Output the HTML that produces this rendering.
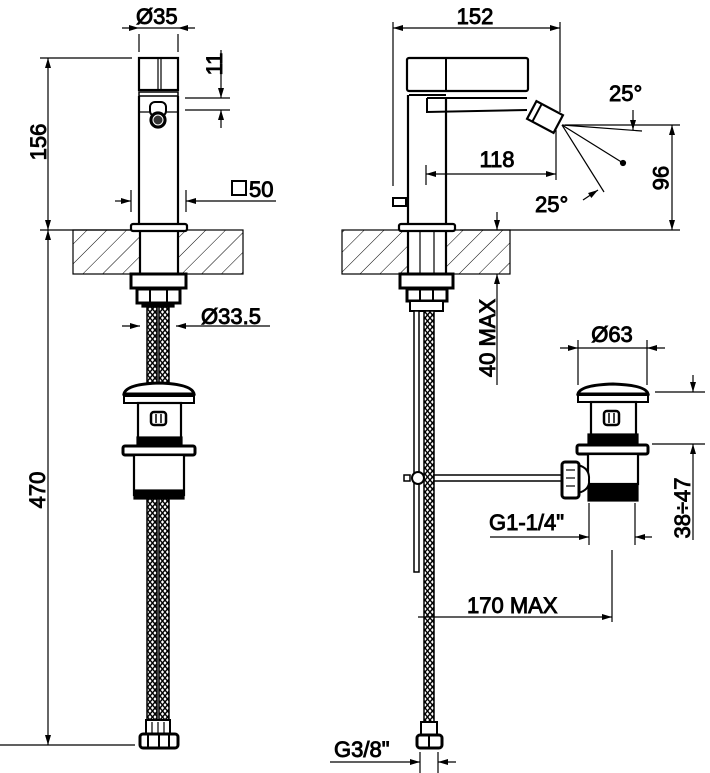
<!DOCTYPE html>
<html><head><meta charset="utf-8"><style>
html,body{margin:0;padding:0;background:#fff;}
svg{display:block;}
text{font-family:"Liberation Sans",Arial,sans-serif;font-size:22px;fill:#000;stroke:#000;stroke-width:0.9;}
</style></head><body>
<svg width="710" height="773" viewBox="0 0 710 773" xmlns="http://www.w3.org/2000/svg">
<defs>
<pattern id="hatch" width="14" height="14" patternUnits="userSpaceOnUse" patternTransform="rotate(45)">
<line x1="0" y1="0" x2="0" y2="14" stroke="#000" stroke-width="1"/>
</pattern>
<pattern id="braid" width="5" height="6" patternUnits="userSpaceOnUse">
<rect width="5" height="6" fill="#fff"/>
<path d="M0 0 L5 6 M5 0 L0 6" stroke="#000" stroke-width="1.4"/>
</pattern>
<marker id="a" viewBox="0 0 10 6" refX="10" refY="3" markerWidth="16" markerHeight="6" markerUnits="userSpaceOnUse" orient="auto">
<path d="M0 0 L10 3 L0 6 Z" fill="#000"/>
</marker>
</defs>
<g fill="none" stroke="#000" stroke-width="1.2">

<!-- ===== LEFT VIEW ===== -->
<line x1="122" y1="28" x2="139" y2="28" marker-end="url(#a)"/>
<line x1="195" y1="28" x2="178" y2="28" marker-end="url(#a)"/>
<line x1="139" y1="28" x2="178" y2="28"/>
<line x1="139" y1="34" x2="139" y2="52"/>
<line x1="178" y1="34" x2="178" y2="52"/>
<line x1="40" y1="58" x2="132" y2="58"/>
<line x1="48" y1="145" x2="48" y2="58" marker-end="url(#a)"/>
<line x1="48" y1="145" x2="48" y2="230" marker-end="url(#a)"/>
<line x1="40" y1="230" x2="140" y2="230"/>
<line x1="48" y1="490" x2="48" y2="230" marker-end="url(#a)"/>
<line x1="48" y1="490" x2="48" y2="745" marker-end="url(#a)"/>
<line x1="0" y1="745" x2="135" y2="745"/>
<rect x="139" y="58" width="39" height="32" stroke-width="2.2"/>
<line x1="158" y1="58" x2="158" y2="90"/><line x1="161" y1="58" x2="161" y2="90"/>
<rect x="139" y="92" width="39" height="4" stroke-width="1.5"/>
<line x1="139" y1="96" x2="139" y2="224" stroke-width="2.2"/>
<line x1="178" y1="96" x2="178" y2="224" stroke-width="2.2"/>
<line x1="139" y1="112" x2="178" y2="112"/>
<rect x="150" y="102" width="16" height="14" rx="5" fill="#fff" stroke-width="2"/>
<circle cx="158" cy="120" r="8" fill="#000"/>
<circle cx="158" cy="120" r="5" fill="#333" stroke="#fff" stroke-width="1"/>
<line x1="185" y1="98" x2="230" y2="98"/>
<line x1="185" y1="110" x2="230" y2="110"/>
<line x1="221" y1="50" x2="221" y2="98" marker-end="url(#a)"/>
<line x1="221" y1="128" x2="221" y2="110" marker-end="url(#a)"/>
<line x1="115" y1="201" x2="131" y2="201" marker-end="url(#a)"/>
<line x1="276" y1="201" x2="186" y2="201" marker-end="url(#a)"/>
<line x1="131" y1="190" x2="131" y2="212"/>
<line x1="186" y1="190" x2="186" y2="212"/>
<rect x="232" y="181" width="14" height="14" stroke-width="2"/>
<rect x="73" y="230" width="170" height="44" fill="url(#hatch)"/>
<rect x="140" y="231" width="38" height="42" fill="#fff" stroke="none"/>
<line x1="140" y1="230" x2="140" y2="274" stroke-width="2.2"/>
<line x1="178" y1="230" x2="178" y2="274" stroke-width="2.2"/>
<rect x="131" y="224" width="56" height="7" rx="2" fill="#fff" stroke-width="2.2"/>
<rect x="131" y="274" width="55" height="14" fill="#fff" stroke-width="3"/>
<rect x="137" y="289" width="43" height="14" fill="#fff" stroke-width="3"/>
<line x1="150" y1="289" x2="150" y2="303" stroke-width="2"/><line x1="167" y1="289" x2="167" y2="303" stroke-width="2"/>
<rect x="142" y="303" width="32" height="4" fill="#000"/>
<line x1="122" y1="326" x2="140" y2="326" marker-end="url(#a)"/>
<line x1="200" y1="326" x2="176" y2="326" marker-end="url(#a)"/>
<line x1="200" y1="326" x2="270" y2="326"/>
<rect x="147" y="307" width="10" height="428" fill="url(#braid)" stroke-width="1.5"/>
<rect x="159" y="307" width="10" height="428" fill="url(#braid)" stroke-width="1.5"/>
<path d="M124 394 Q126 384 159 383 Q192 384 194 394 Z" fill="#fff" stroke-width="3"/>
<rect x="124" y="396" width="70" height="7" fill="#fff" stroke-width="2"/>
<rect x="138" y="403" width="43" height="37" fill="#fff" stroke-width="2.2"/>
<rect x="151" y="412" width="15" height="13" rx="3" fill="#fff" stroke-width="2.5"/>
<line x1="156" y1="414" x2="156" y2="423" stroke-width="1.5"/><line x1="161" y1="414" x2="161" y2="423" stroke-width="1.5"/>
<rect x="137" y="437" width="45" height="9" fill="#000"/>
<rect x="123" y="446" width="72" height="9" rx="2" fill="#fff" stroke-width="3"/>
<rect x="134" y="455" width="50" height="40" fill="#fff" stroke-width="2.2"/>
<rect x="134" y="490" width="50" height="9" fill="#000"/>
<rect x="146" y="720" width="24" height="14" fill="#fff" stroke-width="2"/>
<line x1="152" y1="722" x2="152" y2="733"/><line x1="158" y1="722" x2="158" y2="733"/><line x1="164" y1="722" x2="164" y2="733"/>
<rect x="140" y="734" width="38" height="14" rx="3" fill="#fff" stroke-width="3"/>
<line x1="148" y1="734" x2="148" y2="748" stroke-width="2"/><line x1="159" y1="734" x2="159" y2="748" stroke-width="2"/><line x1="169" y1="734" x2="169" y2="748" stroke-width="2"/>

<!-- ===== RIGHT VIEW ===== -->
<line x1="470" y1="28" x2="393" y2="28" marker-end="url(#a)"/>
<line x1="470" y1="28" x2="560" y2="28" marker-end="url(#a)"/>
<line x1="393" y1="22" x2="393" y2="186"/>
<line x1="560" y1="22" x2="560" y2="112"/>
<rect x="407" y="58" width="121" height="33" rx="2" stroke-width="2.2"/>
<line x1="446" y1="58" x2="446" y2="91" stroke-width="2"/>
<line x1="409" y1="95" x2="446" y2="95" stroke-width="2"/>
<line x1="408" y1="95" x2="408" y2="224" stroke-width="2.2"/>
<line x1="446" y1="98" x2="446" y2="224" stroke-width="2.2"/>
<line x1="427" y1="98" x2="527" y2="98" stroke-width="2"/>
<path d="M427 98 L427 112 L527 110" stroke-width="2"/>
<g transform="translate(545,117) rotate(28)">
<rect x="-15" y="-10" width="30" height="20" fill="#fff" stroke-width="2.2"/>
<line x1="-9" y1="-10" x2="-9" y2="10" stroke-width="2"/>
</g>
<rect x="393" y="198" width="13" height="8" stroke-width="2"/>
<line x1="562" y1="125" x2="642" y2="131"/>
<line x1="562" y1="125" x2="623" y2="163"/>
<circle cx="623" cy="163" r="2.5" fill="#000"/>
<line x1="562" y1="125" x2="604" y2="192"/>
<line x1="633" y1="110" x2="633" y2="130" marker-end="url(#a)"/>
<line x1="583" y1="200" x2="598" y2="190" marker-end="url(#a)"/>
<line x1="426" y1="165" x2="426" y2="185"/>
<line x1="556" y1="130" x2="556" y2="180"/>
<line x1="490" y1="174" x2="426" y2="174" marker-end="url(#a)"/>
<line x1="490" y1="174" x2="556" y2="174" marker-end="url(#a)"/>
<line x1="565" y1="125" x2="680" y2="125"/>
<line x1="460" y1="230" x2="680" y2="230"/>
<line x1="672" y1="178" x2="672" y2="125" marker-end="url(#a)"/>
<line x1="672" y1="178" x2="672" y2="230" marker-end="url(#a)"/>
<rect x="342" y="230" width="168" height="44" fill="url(#hatch)"/>
<rect x="408" y="231" width="38" height="42" fill="#fff" stroke="none"/>
<line x1="408" y1="230" x2="408" y2="274" stroke-width="2.2"/>
<line x1="446" y1="230" x2="446" y2="274" stroke-width="2.2"/>
<line x1="420" y1="230" x2="420" y2="274"/><line x1="434" y1="230" x2="434" y2="274"/>
<rect x="399" y="224" width="56" height="7" rx="2" fill="#fff" stroke-width="2.2"/>
<line x1="497" y1="212" x2="497" y2="230" marker-end="url(#a)"/>
<line x1="497" y1="385" x2="497" y2="274" marker-end="url(#a)"/>
<rect x="400" y="274" width="53" height="14" fill="#fff" stroke-width="3"/>
<rect x="407" y="289" width="40" height="12" fill="#fff" stroke-width="3"/>
<line x1="420" y1="289" x2="420" y2="301" stroke-width="2"/><line x1="433" y1="289" x2="433" y2="301" stroke-width="2"/>
<rect x="410" y="301" width="33" height="10" fill="#fff" stroke-width="2"/>
<rect x="414" y="311" width="5" height="261" fill="#fff" stroke-width="1.5"/>
<rect x="424" y="311" width="10" height="424" fill="url(#braid)" stroke-width="1.5"/>
<line x1="433" y1="475" x2="563" y2="475" stroke-width="1.5"/>
<line x1="433" y1="481" x2="563" y2="481" stroke-width="1.5"/>
<circle cx="418" cy="478" r="6" fill="#fff" stroke-width="2"/>
<rect x="404" y="475" width="6" height="6" fill="#fff" stroke-width="1.5"/>
<path d="M578 394 Q580 385 613 384 Q646 385 648 394 Z" fill="#fff" stroke-width="3"/>
<rect x="578" y="395" width="70" height="7" fill="#fff" stroke-width="2"/>
<rect x="591" y="402" width="45" height="34" fill="#fff" stroke-width="2.2"/>
<rect x="604" y="411" width="15" height="14" rx="3" fill="#fff" stroke-width="2.5"/>
<line x1="609" y1="413" x2="609" y2="423" stroke-width="1.5"/><line x1="614" y1="413" x2="614" y2="423" stroke-width="1.5"/>
<rect x="588" y="434" width="50" height="10" fill="#000"/>
<rect x="577" y="445" width="71" height="9" rx="2" fill="#fff" stroke-width="3"/>
<rect x="588" y="454" width="50" height="30" fill="#fff" stroke-width="2.2"/>
<rect x="588" y="484" width="50" height="17" fill="#000"/>
<path d="M578 465 Q590 468 589 480 Q590 490 578 493" fill="#fff" stroke-width="2"/>
<rect x="562" y="462" width="17" height="36" rx="3" fill="#fff" stroke-width="3"/>
<line x1="566" y1="470" x2="575" y2="470"/><line x1="566" y1="478" x2="575" y2="478"/><line x1="566" y1="486" x2="575" y2="486"/>
<line x1="560" y1="348" x2="578" y2="348" marker-end="url(#a)"/>
<line x1="665" y1="348" x2="647" y2="348" marker-end="url(#a)"/>
<line x1="578" y1="348" x2="647" y2="348"/>
<line x1="578" y1="340" x2="578" y2="385"/>
<line x1="647" y1="340" x2="647" y2="385"/>
<line x1="655" y1="392" x2="705" y2="392"/>
<line x1="652" y1="444" x2="705" y2="444"/>
<line x1="693" y1="375" x2="693" y2="392" marker-end="url(#a)"/>
<line x1="693" y1="540" x2="693" y2="444" marker-end="url(#a)"/>
<line x1="490" y1="537" x2="589" y2="537" marker-end="url(#a)"/>
<line x1="652" y1="537" x2="635" y2="537" marker-end="url(#a)"/>
<line x1="589" y1="503" x2="589" y2="545"/>
<line x1="635" y1="503" x2="635" y2="545"/>
<line x1="612" y1="550" x2="612" y2="622"/>
<line x1="418" y1="617" x2="612" y2="617" marker-end="url(#a)"/>
<rect x="421" y="722" width="16" height="13" fill="#fff" stroke-width="2"/>
<rect x="417" y="735" width="25" height="13" rx="3" fill="#fff" stroke-width="3"/>
<line x1="429" y1="735" x2="429" y2="748" stroke-width="2"/>
<line x1="330" y1="762" x2="420" y2="762" marker-end="url(#a)"/>
<line x1="456" y1="762" x2="438" y2="762" marker-end="url(#a)"/>
<line x1="420" y1="752" x2="420" y2="773"/>
<line x1="438" y1="752" x2="438" y2="773"/>
</g>

<text x="136" y="24">Ø35</text>
<text x="30" y="158" transform="rotate(-90 30 142)" text-anchor="middle">156</text>
<text x="215" y="64" transform="rotate(-90 215 64)" text-anchor="middle" dy="7">11</text>
<text x="249" y="197">50</text>
<text x="201" y="324">Ø33.5</text>
<text x="38" y="490" transform="rotate(-90 38 490)" text-anchor="middle" dy="7">470</text>
<text x="475" y="24" text-anchor="middle">152</text>
<text x="609" y="101">25°</text>
<text x="497" y="167" text-anchor="middle">118</text>
<text x="535" y="212">25°</text>
<text x="660" y="178" transform="rotate(90 660 178)" text-anchor="middle" dy="7">96</text>
<text x="488" y="338" transform="rotate(-90 488 338)" text-anchor="middle" dy="7">40 MAX</text>
<text x="612" y="342" text-anchor="middle">Ø63</text>
<text x="683" y="508" transform="rotate(-90 683 508)" text-anchor="middle" dy="7">38÷47</text>
<text x="489" y="530">G1-1/4"</text>
<text x="467" y="613">170 MAX</text>
<text x="334" y="757">G3/8"</text>
</svg>
</body></html>
